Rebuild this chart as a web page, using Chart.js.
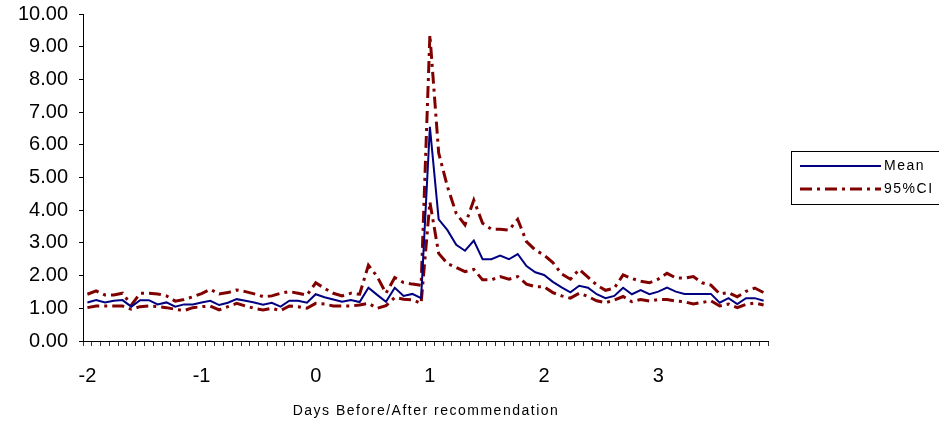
<!DOCTYPE html>
<html>
<head>
<meta charset="utf-8">
<script src="https://cdn.jsdelivr.net/npm/chart.js@4/dist/chart.umd.min.js"></script>
<style>
  html, body { margin: 0; background: #fff; }
</style>
</head>
<body>
<canvas id="chart" width="939" height="430"></canvas>
<script>
Chart.defaults.font.family = "'Liberation Sans', Arial, sans-serif";
Chart.defaults.color = "#000";

// 78 time steps, a tick label every 13 steps
const tickLabels = ["-2", "-1", "0", "1", "2", "3"];
const stepsPerDay = 13;

const meanVals = [
  1.18, 1.25, 1.18, 1.23, 1.25, 1.05, 1.25, 1.25, 1.12, 1.18, 1.05, 1.12, 1.12, 1.18,
  1.23, 1.10, 1.17, 1.28, 1.23, 1.18, 1.11, 1.17, 1.05, 1.23, 1.23, 1.17, 1.43,
  1.34, 1.27, 1.20, 1.25, 1.19, 1.63, 1.41, 1.20, 1.63, 1.38, 1.44, 1.31,
  6.55,
  3.72, 3.39, 2.94, 2.76, 3.07, 2.50, 2.50, 2.61, 2.50, 2.66, 2.29, 2.10, 2.02, 1.81,
  1.64, 1.49, 1.69, 1.63, 1.43, 1.31, 1.38, 1.63, 1.43, 1.56, 1.43, 1.51, 1.63,
  1.51, 1.44, 1.44, 1.44, 1.44, 1.17, 1.31, 1.13, 1.31, 1.31, 1.23
];
const upperVals = [
  1.43, 1.53, 1.41, 1.41, 1.46, 1.10, 1.46, 1.46, 1.44, 1.38, 1.22, 1.27, 1.35,
  1.45, 1.58, 1.44, 1.48, 1.56, 1.51, 1.44, 1.36, 1.38, 1.46, 1.51, 1.46, 1.40,
  1.78, 1.61, 1.46, 1.38, 1.46, 1.43, 2.32, 1.97, 1.46, 1.94, 1.79, 1.74, 1.70,
  9.36,
  5.75, 4.72, 3.90, 3.55, 4.31, 3.60, 3.42, 3.42, 3.39, 3.72, 3.04, 2.78, 2.63, 2.40,
  2.05, 1.89, 2.19, 1.95, 1.71, 1.55, 1.62, 2.02, 1.91, 1.83, 1.78, 1.89, 2.07,
  1.93, 1.92, 1.97, 1.78, 1.71, 1.44, 1.48, 1.35, 1.52, 1.62, 1.48
];
const lowerVals = [
  1.02, 1.07, 1.07, 1.07, 1.07, 0.97, 1.05, 1.07, 1.05, 1.02, 0.97, 0.93, 1.02,
  1.05, 1.07, 0.95, 1.05, 1.15, 1.07, 1.00, 0.95, 1.00, 0.93, 1.07, 1.05, 1.00,
  1.15, 1.13, 1.07, 1.07, 1.07, 1.10, 1.15, 1.00, 1.08, 1.33, 1.28, 1.26, 1.15,
  4.25,
  2.68, 2.37, 2.25, 2.12, 2.19, 1.87, 1.87, 1.97, 1.89, 1.97, 1.74, 1.66, 1.66, 1.48,
  1.38, 1.31, 1.46, 1.36, 1.23, 1.17, 1.25, 1.36, 1.20, 1.27, 1.22, 1.27, 1.27,
  1.22, 1.20, 1.13, 1.18, 1.23, 1.07, 1.13, 1.02, 1.12, 1.16, 1.10
];

const steps = meanVals.map((_, i) => i);
const xTitle = "Days Before/After recommendation";

const MEAN_COLOR = "#000080";
const CI_COLOR = "#800000";
const CI_DASH = [12, 5, 3, 5];

// x title + legend box, drawn by hand (Excel style spacing)
const extras = {
  id: "extras",
  afterDraw(chart) {
    const ctx = chart.ctx;
    ctx.save();
    ctx.fillStyle = "#000";
    ctx.textBaseline = "middle";
    ctx.letterSpacing = "1.5px";
    ctx.font = "14px 'Liberation Sans', Arial, sans-serif";
    ctx.textAlign = "center";
    ctx.fillText(xTitle, 426, 411);

    // legend
    ctx.strokeStyle = "#000";
    ctx.lineWidth = 1;
    ctx.strokeRect(791.5, 151.5, 170, 53);

    ctx.beginPath();
    ctx.strokeStyle = MEAN_COLOR;
    ctx.lineWidth = 2;
    ctx.moveTo(800, 166);
    ctx.lineTo(881, 166);
    ctx.stroke();

    ctx.beginPath();
    ctx.strokeStyle = CI_COLOR;
    ctx.lineWidth = 3;
    ctx.setLineDash(CI_DASH);
    ctx.moveTo(800, 189);
    ctx.lineTo(881, 189);
    ctx.stroke();
    ctx.setLineDash([]);

    ctx.textAlign = "left";
    ctx.fillText("Mean", 884, 166);
    ctx.fillText("95%CI", 884, 189);
    ctx.restore();
  }
};

new Chart(document.getElementById("chart"), {
  type: "line",
  data: {
    labels: steps,
    datasets: [
      { label: "Mean", data: meanVals, borderColor: MEAN_COLOR, borderWidth: 2, pointRadius: 0, fill: false, tension: 0 },
      { label: "95%CI", data: upperVals, borderColor: CI_COLOR, borderWidth: 3, borderDash: CI_DASH, pointRadius: 0, fill: false, tension: 0 },
      { label: "95%CI", data: lowerVals, borderColor: CI_COLOR, borderWidth: 3, borderDash: CI_DASH, pointRadius: 0, fill: false, tension: 0 }
    ]
  },
  options: {
    responsive: false,
    animation: false,
    layout: { padding: { left: 0, right: 171, top: 14, bottom: 0 } },
    plugins: { legend: { display: false }, tooltip: { enabled: false } },
    scales: {
      x: {
        type: "category",
        offset: true,
        grid: { offset: true, drawOnChartArea: false, tickLength: 5, color: "#333" },
        border: { color: "#000", width: 1 },
        ticks: {
          autoSkip: false, maxRotation: 0, padding: 18,
          font: { size: 20 },
          callback: (v, i) => i % stepsPerDay === 0 ? tickLabels[i / stepsPerDay] : ""
        },
        afterFit: s => { s.height = 89; s.paddingLeft = 0; s.paddingRight = 0; }
      },
      y: {
        min: 0, max: 10,
        grid: { drawOnChartArea: false, tickLength: 4, color: "#000" },
        border: { color: "#000", width: 1 },
        ticks: {
          stepSize: 1, padding: 11,
          font: { size: 20 },
          callback: v => v.toFixed(2)
        },
        afterFit: s => { s.width = 83; s.paddingTop = 0; s.paddingBottom = 0; }
      }
    }
  },
  plugins: [extras]
});
</script>
</body>
</html>
